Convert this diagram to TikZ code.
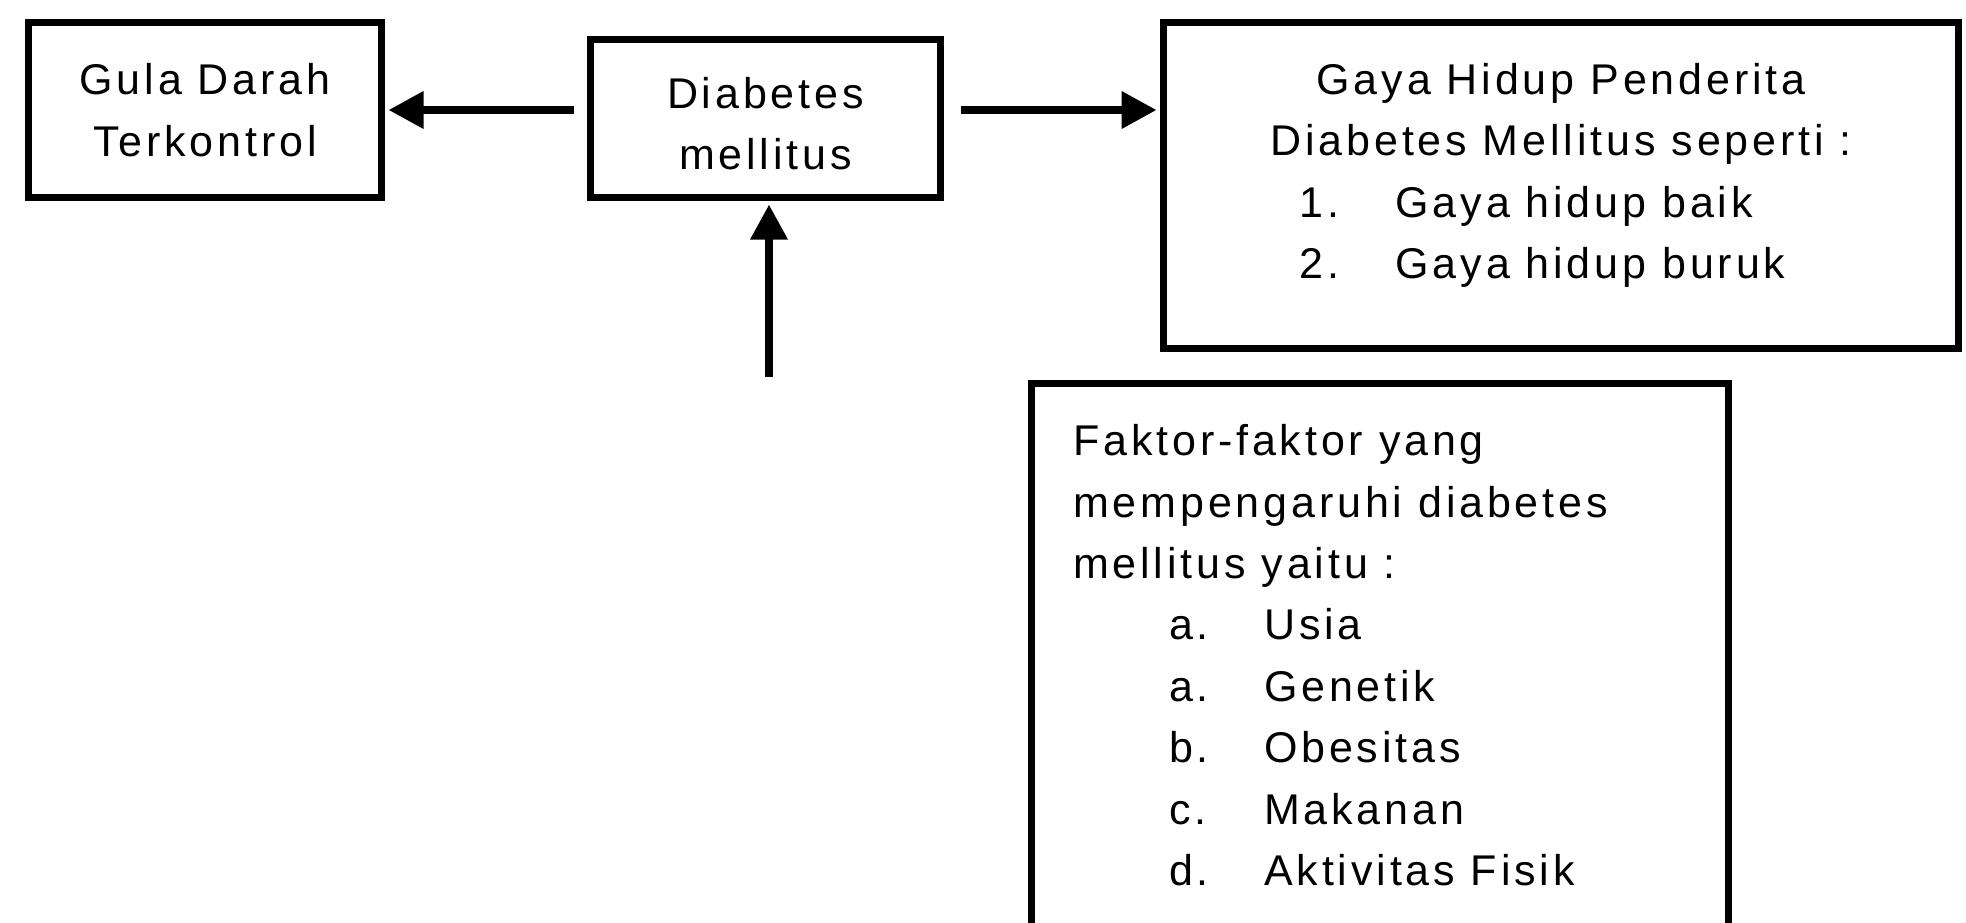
\documentclass[tikz,border=0pt]{standalone}
\usepackage{fontspec}
\setmainfont{Liberation Sans}[LetterSpace=9]
\usetikzlibrary{arrows.meta}
\begin{document}
\begin{tikzpicture}[x=0.5pt,y=-0.5pt,
  every node/.style={font=\fontsize{21.5}{30.7}\selectfont},
  box/.style={draw,line width=3.6pt,inner sep=0pt},
  arr/.style={line width=3.6pt,-{Triangle[length=17.5pt,width=18pt]}}]
\useasboundingbox (0,0) rectangle (1966,922);
\node[box,align=center,minimum width=176.5pt,minimum height=87.5pt] (gula) at (205,110)
  {Gula Darah\\Terkontrol};
\node[box] (dm) at (765.5,118.5)
  {\parbox[c][79pt][t]{175pt}{\vspace*{18.9pt}\centering Diabetes\\mellitus}};
\node[box,anchor=north west] (gaya) at (1160,19)
  {\parbox[c][163pt][t]{397.5pt}{\vspace*{20.25pt}\centering
   Gaya Hidup Penderita\\Diabetes Mellitus seperti :\par\raggedright
   \hspace*{68pt}\makebox[48pt][l]{1.}Gaya hidup baik\\
   \hspace*{68pt}\makebox[48pt][l]{2.}Gaya hidup buruk}};
\node[box,anchor=north west] (faktor) at (1028,380)
  {\parbox[c][290pt][t]{348.5pt}{\vspace*{20.5pt}\raggedright
   \hspace*{20.75pt}Faktor-faktor yang\\
   \hspace*{20.75pt}mempengaruhi diabetes\\
   \hspace*{20.75pt}mellitus yaitu :\\
   \hspace*{68.75pt}\makebox[47.5pt][l]{a.}Usia\\
   \hspace*{68.75pt}\makebox[47.5pt][l]{a.}Genetik\\
   \hspace*{68.75pt}\makebox[47.5pt][l]{b.}Obesitas\\
   \hspace*{68.75pt}\makebox[47.5pt][l]{c.}Makanan\\
   \hspace*{68.75pt}\makebox[47.5pt][l]{d.}Aktivitas Fisik}};
\coordinate (faktorin) at (769,377);
% arrows
\draw[arr,shorten <=6.25pt,shorten >=1.75pt] (dm.west |- gula.east) -- (gula.east);
\draw[arr,shorten <=8.25pt,shorten >=1.75pt] (dm.east |- gula.east) -- (gaya.west |- gula.east);
\draw[arr,shorten >=1.75pt] (faktorin) -- (dm.south -| faktorin);
\end{tikzpicture}
\end{document}
